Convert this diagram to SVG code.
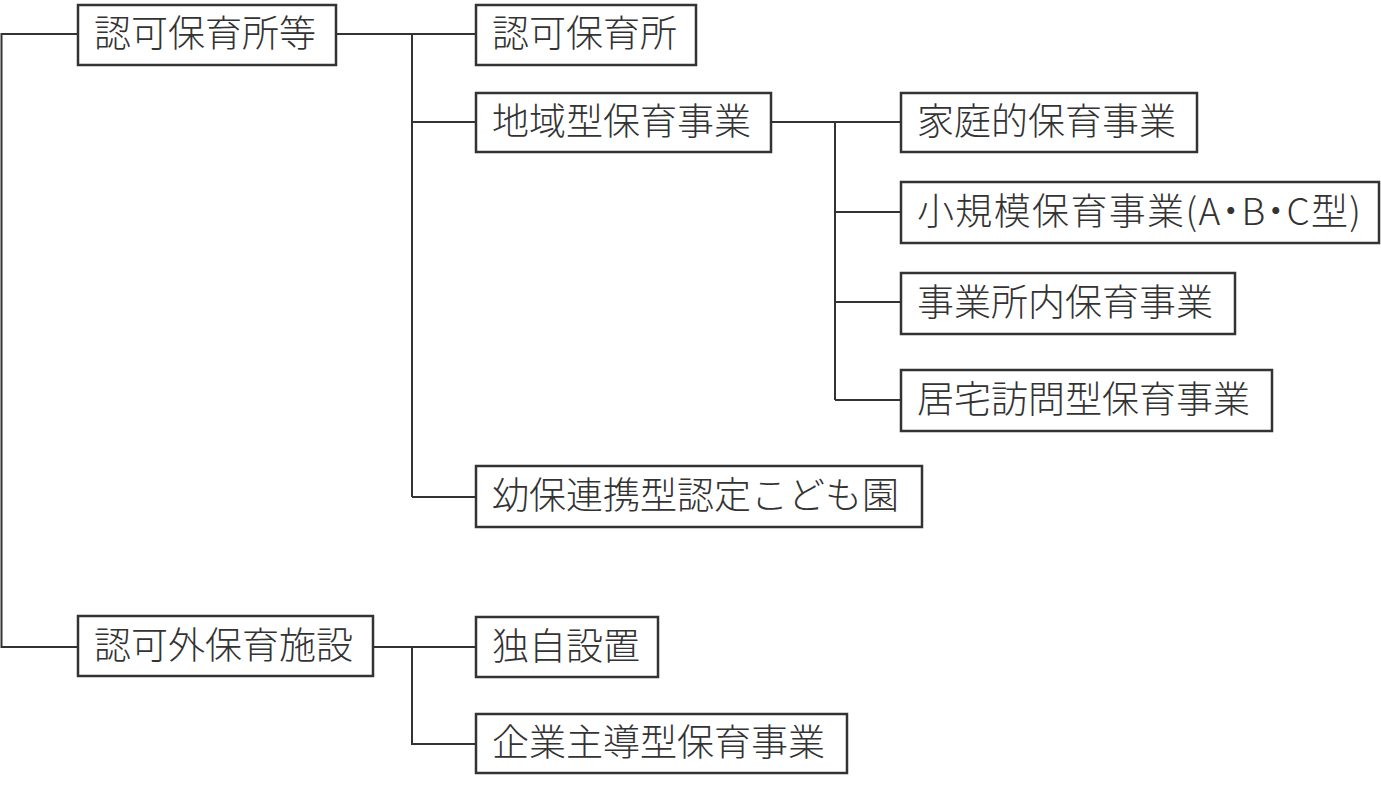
<svg xmlns="http://www.w3.org/2000/svg" width="1381" height="789" viewBox="0 0 1381 789">
<style>
.box{fill:#fff;stroke:#333;stroke-width:2.5}
.lbl{font-family:"Noto Sans CJK JP","Noto Sans CJK SC",sans-serif;font-size:37px;font-weight:300;fill:#333}
.pal{font-feature-settings:"palt" 1}
.con{fill:none;stroke:#333;stroke-width:2}
</style>
<rect width="1381" height="789" fill="#fff"/>
<g id="connectors" class="con">
<path d="M78,34 H1.5 V647 H78"/>
<path d="M336,34 H476 M412,34 V497 M412,122 H476 M412,497 H476"/>
<path d="M771,122 H901 M835,122 V400 M835,212 H901 M835,302 H901 M835,400 H901"/>
<path d="M373,647 H476 M412,647 V744 H476"/>
</g>
<g id="n1"><rect class="box" x="78" y="5" width="258" height="60"/><text class="lbl" x="94" y="47">認可保育所等</text></g>
<g id="n2"><rect class="box" x="476" y="5" width="220" height="60"/><text class="lbl" x="492" y="47">認可保育所</text></g>
<g id="n3"><rect class="box" x="476" y="93" width="295" height="59"/><text class="lbl" x="492" y="135">地域型保育事業</text></g>
<g id="n4"><rect class="box" x="901" y="93" width="296" height="59"/><text class="lbl" x="917" y="135">家庭的保育事業</text></g>
<g id="n5"><rect class="box" x="901" y="182" width="478" height="61"/><text class="lbl" x="917" y="225" textLength="444" lengthAdjust="spacing">小規模保育事業(A<tspan class="pal">・</tspan>B<tspan class="pal">・</tspan>C型)</text></g>
<g id="n6"><rect class="box" x="901" y="273" width="334" height="61"/><text class="lbl" x="917" y="316">事業所内保育事業</text></g>
<g id="n7"><rect class="box" x="901" y="370" width="371" height="61"/><text class="lbl" x="917" y="413">居宅訪問型保育事業</text></g>
<g id="n8"><rect class="box" x="476" y="466" width="446" height="61"/><text class="lbl" x="492" y="509">幼保連携型認定こども園</text></g>
<g id="n9"><rect class="box" x="78" y="616" width="295" height="60"/><text class="lbl" x="94" y="659">認可外保育施設</text></g>
<g id="n10"><rect class="box" x="476" y="617" width="182" height="60"/><text class="lbl" x="492" y="660">独自設置</text></g>
<g id="n11"><rect class="box" x="476" y="714" width="371" height="59"/><text class="lbl" x="492" y="756">企業主導型保育事業</text></g>
</svg>
